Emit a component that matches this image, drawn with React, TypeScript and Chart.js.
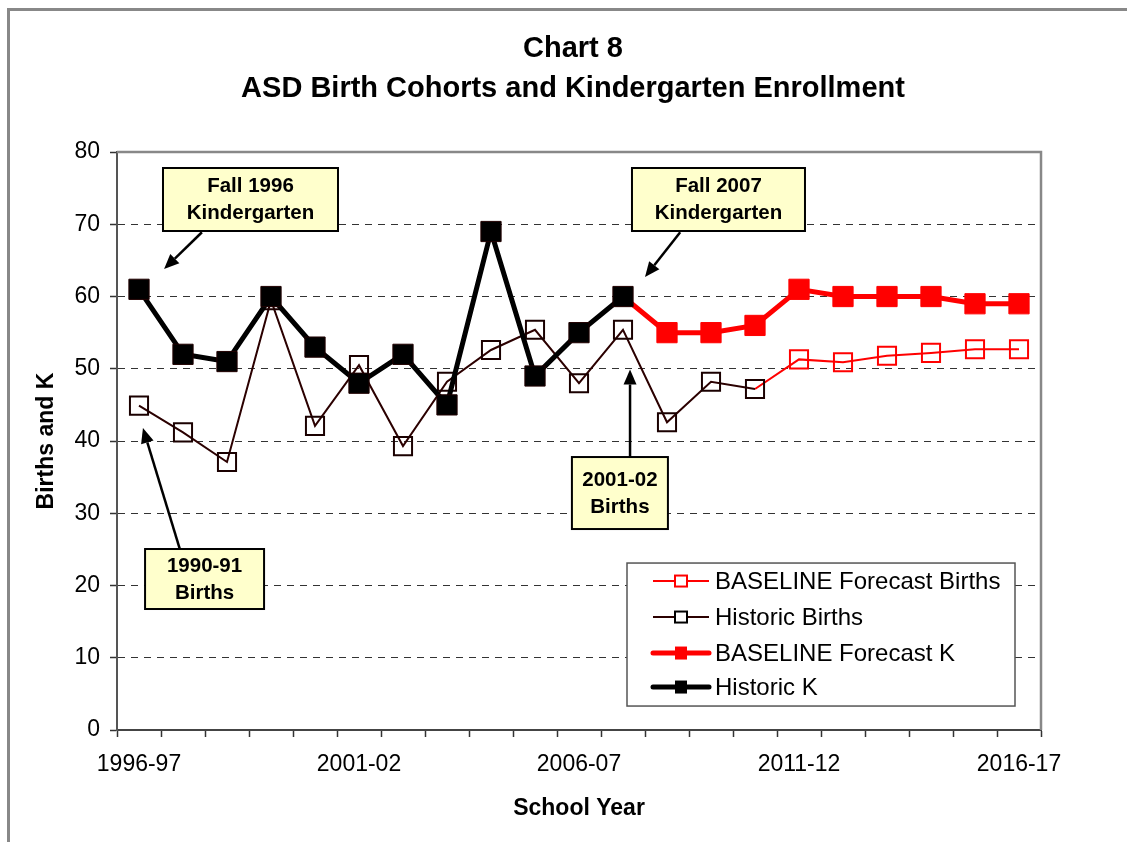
import React, { useEffect, useRef } from 'react';
import { Chart, registerables } from 'chart.js';

Chart.register(...registerables);

const FONT = "'Liberation Sans', Arial, Helvetica, sans-serif";

// ---------- data ----------
const schoolYears = [
  '1996-97', '1997-98', '1998-99', '1999-00', '2000-01', '2001-02', '2002-03',
  '2003-04', '2004-05', '2005-06', '2006-07', '2007-08', '2008-09', '2009-10',
  '2010-11', '2011-12', '2012-13', '2013-14', '2014-15', '2015-16', '2016-17',
];
const shownYearLabels = ['1996-97', '2001-02', '2006-07', '2011-12', '2016-17'];

const historicK = [61, 52, 51, 60, 53, 48, 52, 45, 69, 49, 55, 60,
  null, null, null, null, null, null, null, null, null];
const forecastK = [null, null, null, null, null, null, null, null, null, null, null,
  60, 55, 55, 56, 61, 60, 60, 60, 59, 59];
const historicBirths = [44.9, 41.2, 37.1, 59.5, 42.1, 50.5, 39.3, 48.2, 52.6, 55.4, 48.0,
  55.4, 42.6, 48.2, 47.2, null, null, null, null, null, null];
const forecastBirths = [null, null, null, null, null, null, null, null, null, null, null,
  null, null, null, 47.2, 51.3, 50.9, 51.8, 52.2, 52.7, 52.7];

const yMin = 0;
const yMax = 80;
const yStep = 10;

const titleLines = ['Chart 8', 'ASD Birth Cohorts and Kindergarten Enrollment'];
const yTitle = 'Births and K';
const xTitle = 'School Year';

const legendLabels = ['BASELINE Forecast Births', 'Historic Births', 'BASELINE Forecast K', 'Historic K'];

// callouts: box centre and arrow in data coordinates (category index, value)
const callouts = [
  { lines: ['Fall 1996', 'Kindergarten'], at: [2.534, 73.43], size: [175, 63], from: [1.43, 68.9], to: [0.57, 63.8] },
  { lines: ['Fall 2007', 'Kindergarten'], at: [13.17, 73.43], size: [173, 63], from: [12.3, 68.9], to: [11.5, 62.7] },
  { lines: ['1990-91', 'Births'], at: [1.49, 20.9], size: [119, 60], from: [0.93, 25.0], to: [0.09, 41.8] },
  { lines: ['2001-02', 'Births'], at: [10.93, 32.8], size: [96, 72], from: [11.16, 37.8], to: [11.16, 49.9] },
];

// ---------- plugin for decorations ----------
function drawArrow(ctx: CanvasRenderingContext2D, x1: number, y1: number, x2: number, y2: number) {
  const ang = Math.atan2(y2 - y1, x2 - x1);
  const headLen = 15;
  const headHalf = 6.5;
  const bx = x2 - Math.cos(ang) * headLen;
  const by = y2 - Math.sin(ang) * headLen;
  ctx.save();
  ctx.strokeStyle = '#000';
  ctx.fillStyle = '#000';
  ctx.lineWidth = 2.5;
  ctx.beginPath();
  ctx.moveTo(x1, y1);
  ctx.lineTo(bx, by);
  ctx.stroke();
  ctx.beginPath();
  ctx.moveTo(x2, y2);
  ctx.lineTo(bx + Math.sin(ang) * headHalf, by - Math.cos(ang) * headHalf);
  ctx.lineTo(bx - Math.sin(ang) * headHalf, by + Math.cos(ang) * headHalf);
  ctx.closePath();
  ctx.fill();
  ctx.restore();
}

const decorPlugin = {
  id: 'decor',
  afterLayout(chart: any) {
    // centre the title over the plot area like the original
    const tb = chart.titleBlock;
    const ca = chart.chartArea;
    if (tb && ca) {
      const shift = (ca.left + ca.right) / 2 - 6 - (tb.left + tb.right) / 2;
      tb.left += shift;
      tb.right += shift;
    }
  },
  beforeDraw(chart: any) {
    const { ctx, width, height } = chart;
    ctx.save();
    ctx.fillStyle = '#fff';
    ctx.fillRect(0, 0, width, height);
    ctx.restore();
  },
  beforeDatasetsDraw(chart: any) {
    const { ctx, chartArea: ca } = chart;
    ctx.save();
    ctx.strokeStyle = '#888';
    ctx.lineWidth = 2.5;
    ctx.beginPath();
    ctx.moveTo(ca.left, ca.top);
    ctx.lineTo(ca.right, ca.top);
    ctx.lineTo(ca.right, ca.bottom);
    ctx.stroke();
    ctx.restore();
  },
  afterDatasetsDraw(chart: any) {
    const { ctx, chartArea: ca } = chart;
    const xs = chart.scales.x;
    const ys = chart.scales.y;

    // legend
    const lx = ca.left + 510;
    const ly = ca.top + 411;
    const lw = 388;
    const lh = 143;
    ctx.save();
    ctx.fillStyle = '#fff';
    ctx.fillRect(lx, ly, lw, lh);
    ctx.strokeStyle = '#555';
    ctx.lineWidth = 1.5;
    ctx.strokeRect(lx, ly, lw, lh);
    const order = [3, 2, 1, 0];
    const rowY = [18, 54, 90, 124];
    order.forEach((dsIndex, i) => {
      const ds = chart.data.datasets[dsIndex];
      const y = ly + rowY[i];
      const isK = dsIndex < 2;
      ctx.strokeStyle = ds.borderColor;
      ctx.lineWidth = isK ? 5 : 2;
      ctx.lineCap = isK ? 'round' : 'butt';
      ctx.beginPath();
      ctx.moveTo(lx + 26, y);
      ctx.lineTo(lx + 82, y);
      ctx.stroke();
      const mx = lx + 54;
      if (isK) {
        ctx.fillStyle = ds.pointBackgroundColor;
        ctx.fillRect(mx - 6, y - 6.5, 12, 13);
      } else {
        ctx.fillStyle = '#fff';
        ctx.fillRect(mx - 6, y - 5.5, 12, 11);
        ctx.strokeStyle = ds.borderColor === '#ff0000' ? '#ff0000' : '#000';
        ctx.lineWidth = 2;
        ctx.strokeRect(mx - 6, y - 5.5, 12, 11);
      }
      ctx.fillStyle = '#000';
      ctx.font = `24px ${FONT}`;
      ctx.textAlign = 'left';
      ctx.textBaseline = 'middle';
      ctx.fillText(legendLabels[i], lx + 88, y + 1);
    });
    ctx.restore();

    // callouts
    callouts.forEach((c) => {
      const fx = xs.getPixelForValue(c.from[0]);
      const fy = ys.getPixelForValue(c.from[1]);
      const tx = xs.getPixelForValue(c.to[0]);
      const ty = ys.getPixelForValue(c.to[1]);
      drawArrow(ctx, fx, fy, tx, ty);
      const cx = xs.getPixelForValue(c.at[0]);
      const cy = ys.getPixelForValue(c.at[1]);
      const [w, h] = c.size;
      ctx.save();
      ctx.fillStyle = '#ffffcc';
      ctx.fillRect(cx - w / 2, cy - h / 2, w, h);
      ctx.strokeStyle = '#000';
      ctx.lineWidth = 2;
      ctx.strokeRect(cx - w / 2, cy - h / 2, w, h);
      ctx.fillStyle = '#000';
      ctx.font = `bold 20.5px ${FONT}`;
      ctx.textAlign = 'center';
      ctx.textBaseline = 'middle';
      ctx.fillText(c.lines[0], cx, cy - 13);
      ctx.fillText(c.lines[1], cx, cy + 14);
      ctx.restore();
    });
  },
  afterDraw(chart: any) {
    const { ctx, width, height } = chart;
    ctx.save();
    ctx.strokeStyle = '#888';
    ctx.lineWidth = 3;
    ctx.beginPath();
    ctx.moveTo(8.5, height);
    ctx.lineTo(8.5, 9.5);
    ctx.lineTo(width, 9.5);
    ctx.stroke();
    ctx.restore();
  },
};

export default function App() {
  const ref = useRef<HTMLCanvasElement>(null);

  useEffect(() => {
    if (!ref.current) return;
    Chart.defaults.color = '#000';
    Chart.defaults.font.family = FONT;
    const chart = new Chart(ref.current, {
      type: 'line',
      data: {
        labels: schoolYears,
        datasets: [
          {
            label: 'Historic K',
            data: historicK,
            borderColor: '#000000',
            borderWidth: 5,
            pointStyle: 'rect',
            pointRadius: 14.3,
            pointBackgroundColor: '#000000',
            pointBorderColor: '#200000',
            pointBorderWidth: 1,
            tension: 0,
          },
          {
            label: 'BASELINE Forecast K',
            data: forecastK,
            borderColor: '#ff0000',
            borderWidth: 5,
            pointStyle: 'rect',
            pointRadius: (c: any) => (c.dataIndex === 11 ? 0 : 14.3),
            pointBackgroundColor: '#ff0000',
            pointBorderColor: '#ff0000',
            pointBorderWidth: 1,
            tension: 0,
          },
          {
            label: 'Historic Births',
            data: historicBirths,
            borderColor: '#2b0000',
            borderWidth: 2,
            pointStyle: 'rect',
            pointRadius: 12.8,
            pointBackgroundColor: 'rgba(0,0,0,0)',
            pointBorderColor: '#1a0000',
            pointBorderWidth: 2,
            tension: 0,
          },
          {
            label: 'BASELINE Forecast Births',
            data: forecastBirths,
            borderColor: '#ff0000',
            borderWidth: 2,
            pointStyle: 'rect',
            pointRadius: (c: any) => (c.dataIndex === 14 ? 0 : 12.8),
            pointBackgroundColor: 'rgba(0,0,0,0)',
            pointBorderColor: '#ff0000',
            pointBorderWidth: 2,
            tension: 0,
          },
        ] as any,
      },
      options: {
        responsive: false,
        animation: false,
        devicePixelRatio: 1,
        layout: { padding: { left: 0, right: 86, top: 0, bottom: 0 } },
        plugins: {
          legend: { display: false },
          tooltip: { enabled: false },
          title: {
            display: true,
            text: titleLines,
            color: '#000',
            font: { family: FONT, size: 29, weight: 'bold', lineHeight: 1.38 },
            padding: { top: 29, bottom: 43 },
          },
        },
        scales: {
          x: {
            type: 'category',
            offset: true,
            grid: {
              display: true,
              offset: true,
              drawOnChartArea: false,
              drawTicks: true,
              tickLength: 7,
              tickColor: '#333',
              tickWidth: 1.5,
            },
            border: { display: true, color: '#444', width: 2 },
            ticks: {
              autoSkip: false,
              maxRotation: 0,
              padding: 14,
              color: '#000',
              font: { family: FONT, size: 23 },
              callback: (_v: any, i: number) =>
                shownYearLabels.includes(schoolYears[i]) ? schoolYears[i] : '',
            },
            title: {
              display: true,
              text: xTitle,
              color: '#000',
              font: { family: FONT, size: 23, weight: 'bold' },
              padding: { top: 0, bottom: 20 },
            },
            afterFit: (s: any) => { s.height = 112; },
          },
          y: {
            min: yMin,
            max: yMax,
            ticks: {
              stepSize: yStep,
              padding: 10,
              color: '#000',
              font: { family: FONT, size: 23 },
            },
            grid: {
              color: (c: any) => (c.tick && (c.tick.value === yMin || c.tick.value === yMax) ? 'rgba(0,0,0,0)' : '#333'),
              lineWidth: 1,
              tickLength: 7,
              tickColor: '#333',
              tickWidth: 1.5,
            },
            border: { display: true, color: '#555', width: 2, dash: [7, 6] },
            title: {
              display: true,
              text: yTitle,
              color: '#000',
              font: { family: FONT, size: 23, weight: 'bold' },
              padding: { top: 33, bottom: 0 },
            },
            afterFit: (s: any) => { s.width = 117; },
          },
        },
      } as any,
      plugins: [decorPlugin],
    });
    return () => chart.destroy();
  }, []);

  return (
    <div style={{ position: 'fixed', left: 0, top: 0, width: 1127, height: 842, overflow: 'hidden', background: '#fff' }}>
      <canvas ref={ref} width={1127} height={842} style={{ display: 'block', width: 1127, height: 842 }} />
    </div>
  );
}
